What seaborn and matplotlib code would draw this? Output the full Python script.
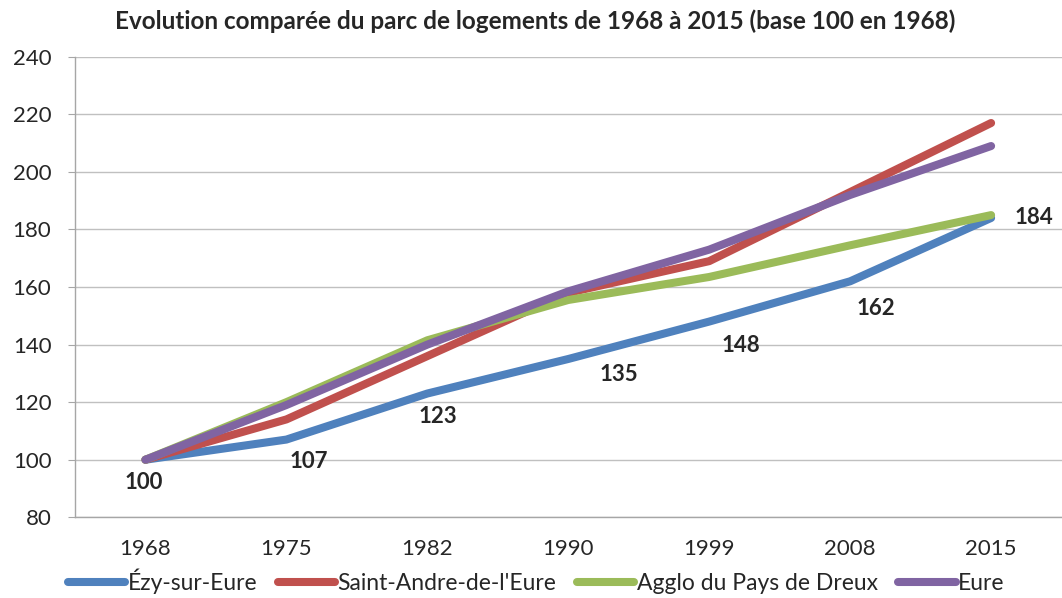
import numpy as np
import pandas as pd
import matplotlib
matplotlib.use("Agg")
import matplotlib.pyplot as plt
import seaborn as sns
from matplotlib.lines import Line2D

# données (base 100 en 1968)
annees = ["1968", "1975", "1982", "1990", "1999", "2008", "2015"]
ezy = [100, 107, 123, 135, 148, 162, 184]
saint_andre = [100, 114, 136, 158, 169, 193, 217]
agglo_dreux = [100, 120, 141.5, 155.5, 163.5, 174.5, 185]
eure = [100, 119, 140, 158.5, 173, 192, 209]

series = {
    "Ézy-sur-Eure": ezy,
    "Saint-Andre-de-l'Eure": saint_andre,
    "Agglo du Pays de Dreux": agglo_dreux,
    "Eure": eure,
}
couleurs = ["#4F81BD", "#C0504D", "#9BBB59", "#8064A2"]

df = pd.concat(
    [pd.DataFrame({"x": range(len(annees)), "valeur": v, "serie": k}) for k, v in series.items()],
    ignore_index=True,
)

sns.set_style("white")
plt.rcParams["font.family"] = ["Lato", "DejaVu Sans"]

fig = plt.figure(figsize=(10.62, 5.98), dpi=100)
ax = fig.add_axes([0.0706, 0.135, 0.929, 0.77])

sns.lineplot(
    data=df, x="x", y="valeur", hue="serie", palette=couleurs,
    linewidth=5.8, ax=ax, legend=False, solid_capstyle="round",
)

# étiquettes de la série Ézy-sur-Eure (décalages en pixels)
decalages = [(-2, -23), (22, -22), (11, -23), (51, -16), (32, -24), (26, -27), (43, 0)]
for i, (v, (dx, dy)) in enumerate(zip(ezy, decalages)):
    ax.annotate(str(v), (i, v), xytext=(dx * 0.72, dy * 0.72), textcoords="offset points",
                ha="center", va="center", fontsize=16, fontweight="bold")

ax.set_xlim(-0.5, len(annees) - 0.5)
ax.set_ylim(80, 240)
ax.set_yticks(np.arange(80, 241, 20))
ax.set_xticks(range(len(annees)))
ax.set_xticklabels(annees)
ax.set_xticks(np.arange(-0.5, len(annees), 1), minor=True)
ax.tick_params(axis="x", which="major", length=0, labelsize=16, pad=16)
ax.tick_params(axis="x", which="minor", length=6, color="#A6A6A6", direction="out")
ax.tick_params(axis="y", length=5, color="#A6A6A6", labelsize=16, left=True, pad=12)
ax.set_xlabel("")
ax.set_ylabel("")

ax.yaxis.grid(True, color="#C0C0C0", linewidth=1)
ax.set_axisbelow(True)
for s in ["top", "right"]:
    ax.spines[s].set_visible(False)
for s in ["left", "bottom"]:
    ax.spines[s].set_color("#A6A6A6")
    ax.spines[s].set_linewidth(1)

fig.suptitle("Evolution comparée du parc de logements de 1968 à 2015 (base 100 en 1968)",
             x=0.504, y=0.985, va="top", fontsize=17.5, fontweight="bold")

poignees = [Line2D([0], [0], color=c, lw=5.8, solid_capstyle="round") for c in couleurs]
fig.legend(poignees, list(series.keys()), loc="lower center", bbox_to_anchor=(0.505, -0.028),
           ncol=4, frameon=False, fontsize=16.5, handlelength=2.5, handletextpad=0.1,
           columnspacing=0.9)

fig.savefig("out.png", dpi=100)
